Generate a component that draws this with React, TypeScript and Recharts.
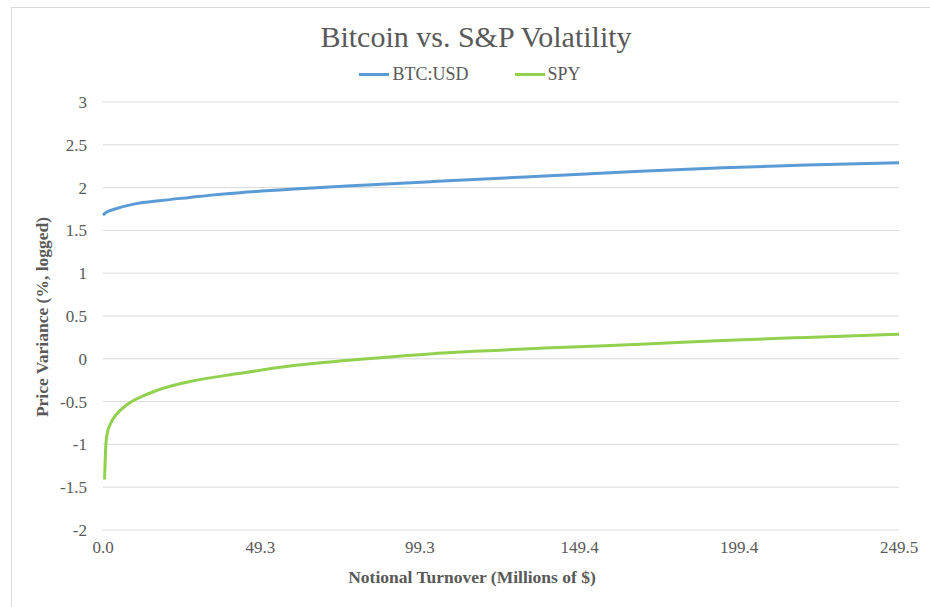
import React from 'react';
import { LineChart, Line, XAxis, YAxis, CartesianGrid, Legend } from 'recharts';

const btcTurnover = [0, 1.2, 3.8, 10.0, 18.4, 27.2, 34.8, 42.9, 58.6, 82.7, 103.4, 124.4, 138.5, 168.3, 194.3, 220.6, 249.5];
const btcVariance = [1.68, 1.715, 1.75, 1.81, 1.85, 1.885, 1.915, 1.94, 1.98, 2.03, 2.07, 2.11, 2.135, 2.19, 2.232, 2.263, 2.29];

const spyTurnover = [0.5, 0.9, 1.4, 2.2, 4.3, 7.4, 11.6, 16.8, 27.3, 42.9, 58.6, 82.7, 103.4, 124.4, 138.5, 168.3, 194.3, 220.6, 249.5];
const spyVariance = [-1.41, -1.0, -0.86, -0.77, -0.645, -0.54, -0.45, -0.37, -0.265, -0.17, -0.085, 0.0, 0.06, 0.1, 0.125, 0.17, 0.213, 0.25, 0.288];

const xTicks = [0, 49.3, 99.3, 149.4, 199.4, 249.5];
const yTicks = [-2, -1.5, -1, -0.5, 0, 0.5, 1, 1.5, 2, 2.5, 3];

const seriesNames = ['BTC:USD', 'SPY'];
const seriesColors = ['#5B9BD5', '#92D050'];

const btcData = btcTurnover.map((x, i) => ({ x, y: btcVariance[i] }));
const spyData = spyTurnover.map((x, i) => ({ x, y: spyVariance[i] }));

const FONT = "'Liberation Serif', 'Times New Roman', serif";
const TEXT = '#595959';

const renderLegend = (props: any) => {
  const payload = props.payload || [];
  return (
    <div style={{ display: 'flex', justifyContent: 'center', alignItems: 'center', fontFamily: FONT, fontSize: 18, color: TEXT, lineHeight: '20px', paddingLeft: 10 }}>
      {payload.map((p: any, i: number) => (
        <div key={i} style={{ display: 'flex', alignItems: 'center', marginLeft: i === 0 ? 0 : 46 }}>
          <span style={{ display: 'inline-block', width: 30, height: 3, background: p.color, marginRight: 3 }} />
          <span>{p.value}</span>
        </div>
      ))}
    </div>
  );
};

export default function App() {
  return (
    <div style={{ position: 'absolute', left: 0, top: 0, width: 930, height: 607, overflow: 'hidden', background: '#fff' }}>
      <div style={{ position: 'absolute', left: 11, top: 7, width: 940, height: 700, border: '1px solid #d9d9d9' }} />
      <div style={{ position: 'absolute', left: 0, top: 0 }}>
        <LineChart width={930} height={607} margin={{ top: 102, right: 31, bottom: 47, left: 43 }}>
          <CartesianGrid vertical={false} stroke="#d9d9d9" strokeWidth={1} />
          <XAxis
            type="number"
            dataKey="x"
            domain={[0, 249.5]}
            ticks={xTicks}
            interval={0}
            tickFormatter={(v: number) => v.toFixed(1)}
            axisLine={false}
            tickLine={false}
            tickSize={6}
            tickMargin={5}
            height={30}
            tick={{ fill: TEXT, fontSize: 17, fontFamily: FONT }}
            allowDuplicatedCategory={false}
          />
          <YAxis
            type="number"
            domain={[-2, 3]}
            ticks={yTicks}
            interval={0}
            axisLine={false}
            tickLine={false}
            tickSize={6}
            tickMargin={10}
            width={60}
            tick={{ fill: TEXT, fontSize: 17, fontFamily: FONT }}
          />
          <Legend
            verticalAlign="middle"
            layout="horizontal"
            align="center"
            wrapperStyle={{ top: 64, left: 0, width: 930 }}
            content={renderLegend}
          />
          <Line data={btcData} dataKey="y" name={seriesNames[0]} type="monotone" stroke={seriesColors[0]} strokeWidth={3} dot={false} isAnimationActive={false} />
          <Line data={spyData} dataKey="y" name={seriesNames[1]} type="monotone" stroke={seriesColors[1]} strokeWidth={3} dot={false} isAnimationActive={false} />
        </LineChart>
      </div>
      <svg width={930} height={607} style={{ position: 'absolute', left: 0, top: 0, pointerEvents: 'none' }}>
        <text x={476} y={47} textAnchor="middle" fontFamily={FONT} fontSize={30} fill={TEXT}>Bitcoin vs. S&amp;P Volatility</text>
        <text x={472} y={583} textAnchor="middle" fontFamily={FONT} fontSize={17.5} fontWeight="bold" fill={TEXT}>Notional Turnover  (Millions of $)</text>
        <text transform="translate(48,317) rotate(-90)" textAnchor="middle" fontFamily={FONT} fontSize={17.5} fontWeight="bold" fill={TEXT}>Price Variance  (%, logged)</text>
      </svg>
    </div>
  );
}
